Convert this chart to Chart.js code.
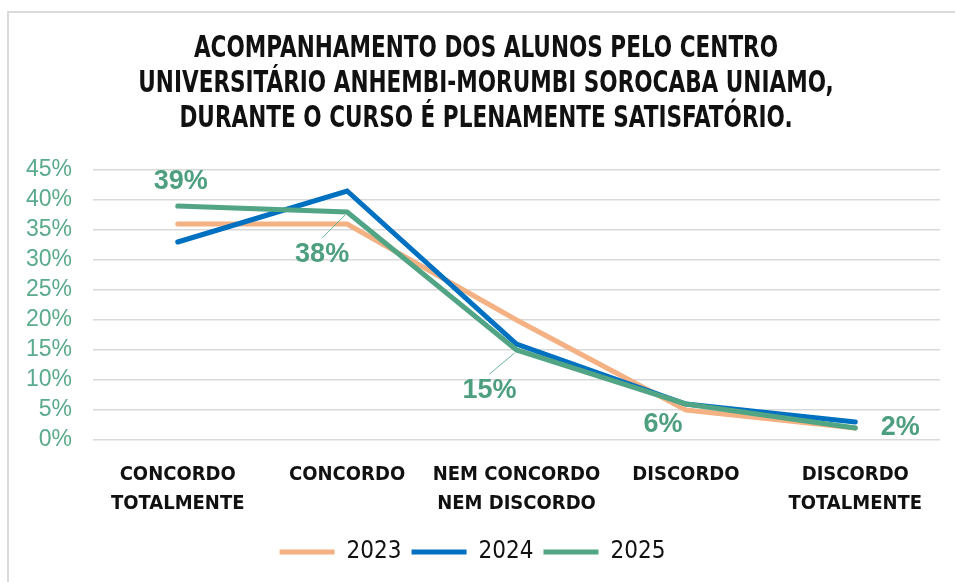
<!DOCTYPE html>
<html>
<head>
<meta charset="utf-8">
<script src="https://cdn.jsdelivr.net/npm/chart.js@4.4.1/dist/chart.umd.min.js"></script>
<style>
    html, body { margin: 0; padding: 0; background: #fff; overflow: hidden; }
    #wrap { position: relative; width: 955px; height: 582px; }
    #frame { position: absolute; left: 7px; top: 11px; right: -10px; bottom: -10px;
             border-left: 2px solid #dadada; border-top: 2px solid #dadada; }
    #chart { position: absolute; left: 0; top: 0; }
</style>
</head>
<body>
<div id="wrap">
    <div id="frame"></div>
    <canvas id="chart" width="955" height="582"></canvas>
</div>
<script>
// categorias e valores (em %)
const categories = [
    ['CONCORDO', 'TOTALMENTE'],
    'CONCORDO',
    ['NEM CONCORDO', 'NEM DISCORDO'],
    'DISCORDO',
    ['DISCORDO', 'TOTALMENTE']
];
const values2023 = [36, 36, 20, 5, 2];
const values2024 = [33, 41.5, 16, 6, 3];
const values2025 = [39, 38, 15, 6, 2];
const yTicks = [0, 5, 10, 15, 20, 25, 30, 35, 40, 45];

const titleLines = [
    'ACOMPANHAMENTO DOS ALUNOS PELO CENTRO',
    'UNIVERSITÁRIO ANHEMBI-MORUMBI SOROCABA UNIAMO,',
    'DURANTE O CURSO É PLENAMENTE SATISFATÓRIO.'
];

const GREEN = '#52a584';
const COND = '"Liberation Sans Narrow", "DejaVu Sans Condensed", sans-serif';

// posição dos rótulos da série 2025 (deslocamento em px e linha de chamada)
const labelOffsets = [[3, -24], [-25, 43], [-27, 41], [-23, 21], [45, 0]];
const labelLeader = [false, true, true, false, false];

// título condensado (a fonte estreita não existe aqui, então comprimimos na horizontal)
const narrowTitle = {
    id: 'narrowTitle',
    afterDraw(chart) {
        const ctx = chart.ctx;
        ctx.save();
        ctx.font = 'bold 30px ' + COND;
        ctx.fillStyle = '#111';
        ctx.textAlign = 'center';
        ctx.textBaseline = 'middle';
        ctx.translate(486, 0);
        ctx.scale(0.8, 1);
        titleLines.forEach((line, i) => ctx.fillText(line, 0, 49 + i * 35));
        ctx.restore();
    }
};

const dataLabels = {
    id: 'dataLabels',
    afterDatasetsDraw(chart) {
        const ctx = chart.ctx;
        const meta = chart.getDatasetMeta(2);
        ctx.save();
        ctx.font = 'bold 27px "Liberation Sans", sans-serif';
        ctx.fillStyle = '#4e9f80';
        ctx.strokeStyle = '#6bb497';
        ctx.lineWidth = 1;
        ctx.textAlign = 'center';
        ctx.textBaseline = 'middle';
        meta.data.forEach((pt, i) => {
            const lx = pt.x + labelOffsets[i][0];
            const ly = pt.y + labelOffsets[i][1];
            if (labelLeader[i]) {
                ctx.beginPath();
                ctx.moveTo(pt.x - 2, pt.y + 3);
                ctx.lineTo(lx, ly - 17);
                ctx.stroke();
            }
            ctx.fillText(values2025[i] + '%', lx, ly);
        });
        ctx.restore();
    }
};

new Chart(document.getElementById('chart'), {
    type: 'line',
    data: {
        labels: categories,
        datasets: [
            { label: '2023', data: values2023, borderColor: '#f4b183', backgroundColor: '#f4b183', order: 3 },
            { label: '2024', data: values2024, borderColor: '#0070c0', backgroundColor: '#0070c0', order: 2 },
            { label: '2025', data: values2025, borderColor: GREEN, backgroundColor: GREEN, order: 1 }
        ]
    },
    options: {
        responsive: false,
        animation: false,
        datasets: { line: { borderWidth: 5, pointRadius: 0, tension: 0, borderCapStyle: 'round', borderJoinStyle: 'miter' } },
        layout: { padding: { top: 170, left: 5, right: 15, bottom: 8 } },
        scales: {
            x: {
                offset: true,
                grid: { display: false },
                border: { display: false },
                ticks: { color: '#111', maxRotation: 0, autoSkip: false, padding: 12,
                         font: { family: COND, weight: 'bold', size: 20, lineHeight: 1.45 } }
            },
            y: {
                min: 0, max: 45,
                afterBuildTicks: axis => { axis.ticks = yTicks.map(v => ({ value: v })); },
                grid: { color: '#d9d9d9', lineWidth: 1.5, drawTicks: false },
                border: { display: false },
                ticks: { color: '#5aaa8c', padding: 21, autoSkip: false, callback: v => v + '%',
                         font: { family: '"Liberation Sans", sans-serif', size: 23 } }
            }
        },
        plugins: {
            title: { display: false },
            legend: {
                position: 'bottom',
                labels: {
                    usePointStyle: true, pointStyle: 'line', pointStyleWidth: 55, boxHeight: 6,
                    color: '#111', padding: 10,
                    font: { family: COND, size: 24 },
                    sort: (a, b) => a.datasetIndex - b.datasetIndex
                }
            },
            tooltip: { enabled: false }
        }
    },
    plugins: [dataLabels, narrowTitle]
});
</script>
</body>
</html>
